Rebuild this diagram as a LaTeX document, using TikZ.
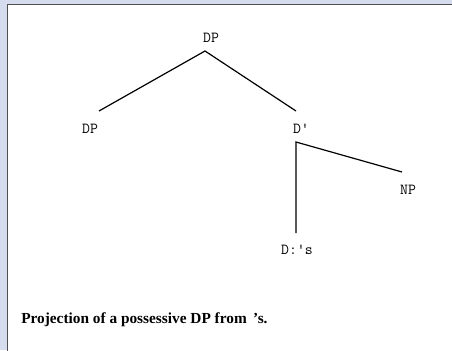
\documentclass[tikz,border=0pt]{standalone}
\usepackage{fontspec}
\setmainfont{Liberation Serif}
\usetikzlibrary{positioning}
\definecolor{pagebg}{HTML}{D5DCEE}
\definecolor{framegray}{HTML}{505050}

\begin{document}
\begin{tikzpicture}[
    x={(0.75pt,0)}, y={(0,-0.75pt)},
    every node/.style={inner sep=0pt},
    cat/.style={font=\ttfamily\fontsize{11.5}{13}\selectfont},
    branch/.style={line width=0.9pt, black},
]
% --- page background and white panel -------------------------------
\fill[pagebg] (0,0) rectangle (452,350);
\useasboundingbox (0,0) rectangle (452,350);
\fill[white] (7.5,4.5) rectangle (453,351);
\draw[framegray, line width=1pt] (7.5,351) -- (7.5,4.5) -- (453,4.5);

% --- tree labels ------------------------------------------------------
\node[cat] (dp)   at (211,38)  {DP};
\node[cat] (spec) at (90,129)  {DP};
\node[cat] (dbar) at (301,129) {D'};
\node[cat] (np)   at (408,190) {NP};
\node[cat] (head) at (297,250) {D:'s};

% --- branches -----------------------------------------------------------
\coordinate (dpfoot)   at (205,51);
\coordinate (specTop)  at (99,111);
\coordinate (dbarTop)  at (296,111);
\coordinate (dbarfoot) at (296,142);
\coordinate (npTop)    at (402,172);
\coordinate (headTop)  at (296,233);
\draw[branch] (specTop) -- (dpfoot) -- (dbarTop);
\draw[branch] (npTop) -- (dbarfoot) -- (headTop);

% --- caption -------------------------------------------------------------
\node[anchor=west, font=\bfseries\fontsize{11.5}{13}\selectfont] (caption)
    at (21,320) {Projection of a possessive DP from \,’s.};
\end{tikzpicture}
\end{document}
